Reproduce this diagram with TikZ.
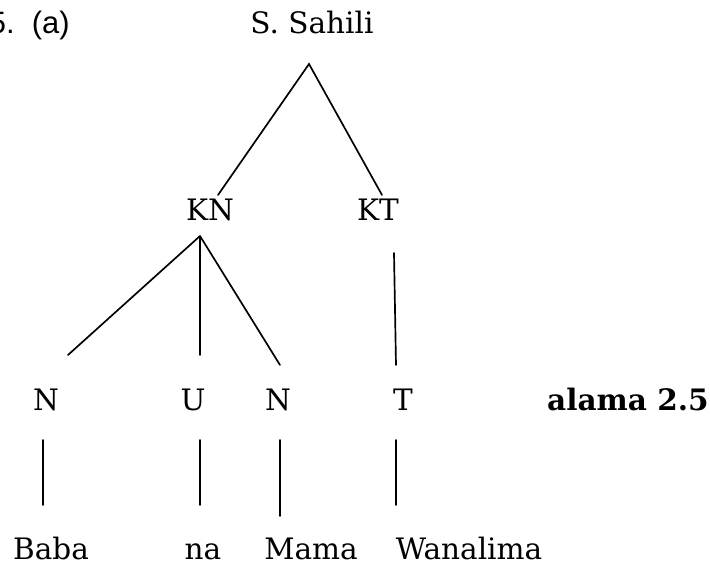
\documentclass[tikz,border=0pt]{standalone}
\usepackage{fontspec}
\setmainfont{DejaVu Serif}
\newfontfamily\numfont{Liberation Sans}
\tikzset{catnode/.style={anchor=base,inner sep=0pt,font=\fontsize{21}{26}\selectfont}}
\tikzset{wordnode/.style={catnode}}
\tikzset{branch/.style={line width=1.2pt,line cap=round}}

\begin{document}
\begin{tikzpicture}[x=0.25mm,y=-0.25mm]
	\useasboundingbox (0,0) rectangle (710,567);

	\node[catnode,anchor=base east,font=\fontsize{22}{26}\selectfont] (num) at (70,34) {\numfont 5.\ \ (a)};
	\node[catnode] (sent) at (312,34) {S. Sahili};

	\node[catnode] (kn) at (210,221) {KN};
	\node[catnode] (kt) at (378,221) {KT};

	\node[catnode] (n1) at (46,410) {N};
	\node[catnode] (u) at (193,410) {U};
	\node[catnode] (n2) at (278,410) {N};
	\node[catnode] (t) at (403,410) {T};
	\node[catnode,anchor=base east,font=\fontsize{21}{26}\selectfont\bfseries] (alama) at (709,410) {alama 2.5};

	\node[wordnode] (baba) at (51,559) {Baba};
	\node[wordnode] (na) at (203,559) {na};
	\node[wordnode] (mama) at (311,559) {Mama};
	\node[wordnode] (wanalima) at (469,559) {Wanalima};

	% end points of the branches
	\coordinate (sent foot) at (309,64);
	\coordinate (kn head) at (218,195);
	\coordinate (kt head) at (382,195);
	\coordinate (kn foot) at (200,236);
	\coordinate (n1 head) at (68,355);
	\coordinate (u head) at (200,355);
	\coordinate (n2 head) at (280,365);
	\coordinate (kt foot) at (394,253);
	\coordinate (t head) at (396,365);

	\draw[branch] (kn head) -- (sent foot) -- (kt head);
	\draw[branch] (kn foot) -- (n1 head) (kn foot) -- (u head) (kn foot) -- (n2 head);
	\draw[branch] (kt foot) -- (t head);

	\coordinate (n1 foot) at (43,440);   \coordinate (baba head) at (43,505);
	\coordinate (u foot) at (200,440);   \coordinate (na head) at (200,505);
	\coordinate (n2 foot) at (280,440);  \coordinate (mama head) at (280,516);
	\coordinate (t foot) at (396,440);   \coordinate (wanalima head) at (396,505);

	\draw[branch] (n1 foot) -- (baba head) (u foot) -- (na head) (n2 foot) -- (mama head) (t foot) -- (wanalima head);
\end{tikzpicture}
\end{document}
